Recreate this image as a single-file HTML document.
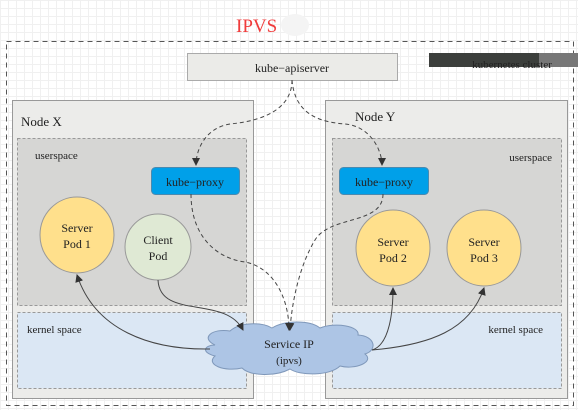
<!DOCTYPE html>
<html><head><meta charset="utf-8"><style>
body{margin:0;width:578px;height:410px;overflow:hidden;background:#fff;
background-image:linear-gradient(#f0f0f0 1px,transparent 1px),linear-gradient(90deg,#f0f0f0 1px,transparent 1px);background-size:8px 8px;}
svg{position:absolute;left:0;top:0}
text{font-family:"Liberation Serif",serif;fill:#222}
</style></head><body>
<svg width="578" height="410" viewBox="0 0 578 410">
<defs>
<marker id="a" markerWidth="8" markerHeight="8" refX="7" refY="4" orient="auto" markerUnits="userSpaceOnUse"><path d="M0,0 L8,4 L0,8 z" fill="#333"/></marker>
</defs>
<text x="236" y="32" font-size="19" style="fill:#f03c3c">IPVS</text>
<ellipse cx="295" cy="25" rx="14" ry="11" fill="#f4f4f4"/>
<rect x="6.5" y="41.5" width="567" height="364" fill="none" stroke="#555" stroke-dasharray="5,4"/>
<rect x="187.5" y="53.5" width="210" height="27" fill="#ebebe8" stroke="#aaa"/>
<text x="292" y="72" font-size="12" text-anchor="middle">kube−apiserver</text>
<rect x="429" y="53" width="110" height="14" fill="#3c3f3c"/>
<rect x="539" y="53" width="39" height="14" fill="#777"/>
<text x="512" y="68" font-size="11" text-anchor="middle">kubernetes cluster</text>
<rect x="12.5" y="100.5" width="241" height="298" fill="#ececea" stroke="#999"/>
<rect x="325.5" y="100.5" width="242" height="298" fill="#ececea" stroke="#999"/>
<rect x="17.5" y="138.5" width="229" height="167" fill="#d6d6d4" stroke="#999" stroke-dasharray="3,2"/>
<rect x="17.5" y="312.5" width="229" height="76" fill="#dbe7f4" stroke="#999" stroke-dasharray="3,2"/>
<rect x="332.5" y="138.5" width="229" height="167" fill="#d6d6d4" stroke="#999" stroke-dasharray="3,2"/>
<rect x="332.5" y="312.5" width="229" height="76" fill="#dbe7f4" stroke="#999" stroke-dasharray="3,2"/>
<text x="21" y="126" font-size="13">Node X</text>
<text x="355" y="121" font-size="13">Node Y</text>
<text x="35" y="159" font-size="11">userspace</text>
<text x="552" y="161" font-size="11" text-anchor="end">userspace</text>
<text x="27" y="333" font-size="11">kernel space</text>
<text x="543" y="333" font-size="11" text-anchor="end">kernel space</text>
<rect x="151.5" y="167.5" width="88" height="27" rx="4" fill="#00a0e9" stroke="#4a8ab0"/>
<text x="195" y="186" font-size="12" text-anchor="middle">kube−proxy</text>
<rect x="339.5" y="167.5" width="89" height="27" rx="4" fill="#00a0e9" stroke="#4a8ab0"/>
<text x="384" y="186" font-size="12" text-anchor="middle">kube−proxy</text>
<ellipse cx="77" cy="235" rx="37" ry="38" fill="#ffe08c" stroke="#999"/>
<text x="77" y="232" font-size="12" text-anchor="middle">Server</text><text x="77" y="248" font-size="12" text-anchor="middle">Pod 1</text>
<ellipse cx="158" cy="247" rx="33" ry="33" fill="#dfe9d4" stroke="#999"/>
<text x="158" y="244" font-size="12" text-anchor="middle">Client</text><text x="158" y="260" font-size="12" text-anchor="middle">Pod</text>
<ellipse cx="393" cy="248" rx="37" ry="38" fill="#ffe08c" stroke="#999"/>
<text x="393" y="246" font-size="12" text-anchor="middle">Server</text><text x="393" y="262" font-size="12" text-anchor="middle">Pod 2</text>
<ellipse cx="484" cy="248" rx="37" ry="38" fill="#ffe08c" stroke="#999"/>
<text x="484" y="246" font-size="12" text-anchor="middle">Server</text><text x="484" y="262" font-size="12" text-anchor="middle">Pod 3</text>
<path d="M215,345 C200,338 212,328 230,331 C240,322 262,322 272,328 C285,320 310,320 320,328 C335,322 360,326 358,335 C375,336 378,350 365,354 C375,362 355,370 340,366 C330,376 300,376 290,369 C275,377 250,376 242,368 C225,372 205,365 215,356 C200,352 205,345 215,345 Z" fill="#adc5e5" stroke="#7f98ba"/>
<text x="289" y="348" font-size="12" text-anchor="middle">Service IP</text>
<text x="289" y="364" font-size="11" text-anchor="middle">(ipvs)</text>
<g fill="none" stroke="#444" stroke-width="1">
<g stroke-dasharray="4,3">
<path d="M292,80 C292,115 250,122 230,124 C205,128 196,150 196,165" marker-end="url(#a)"/>
<path d="M292,80 C295,115 320,122 345,124 C370,126 382,150 382,165" marker-end="url(#a)"/>
<path d="M191,194 C191,235 215,258 245,262 C275,268 289,300 289,330" marker-end="url(#a)"/>
<path d="M383,194 C383,225 330,215 315,240 C300,265 292,300 290,330" marker-end="url(#a)"/>
</g>
<path d="M158,280 C160,320 225,295 243,330" marker-end="url(#a)"/>
<path d="M210,349 C150,350 95,330 77,275" marker-end="url(#a)"/>
<path d="M372,350 C390,345 393,310 393,288" marker-end="url(#a)"/>
<path d="M372,350 C430,345 470,330 484,288" marker-end="url(#a)"/>
</g>
</svg>
</body></html>
